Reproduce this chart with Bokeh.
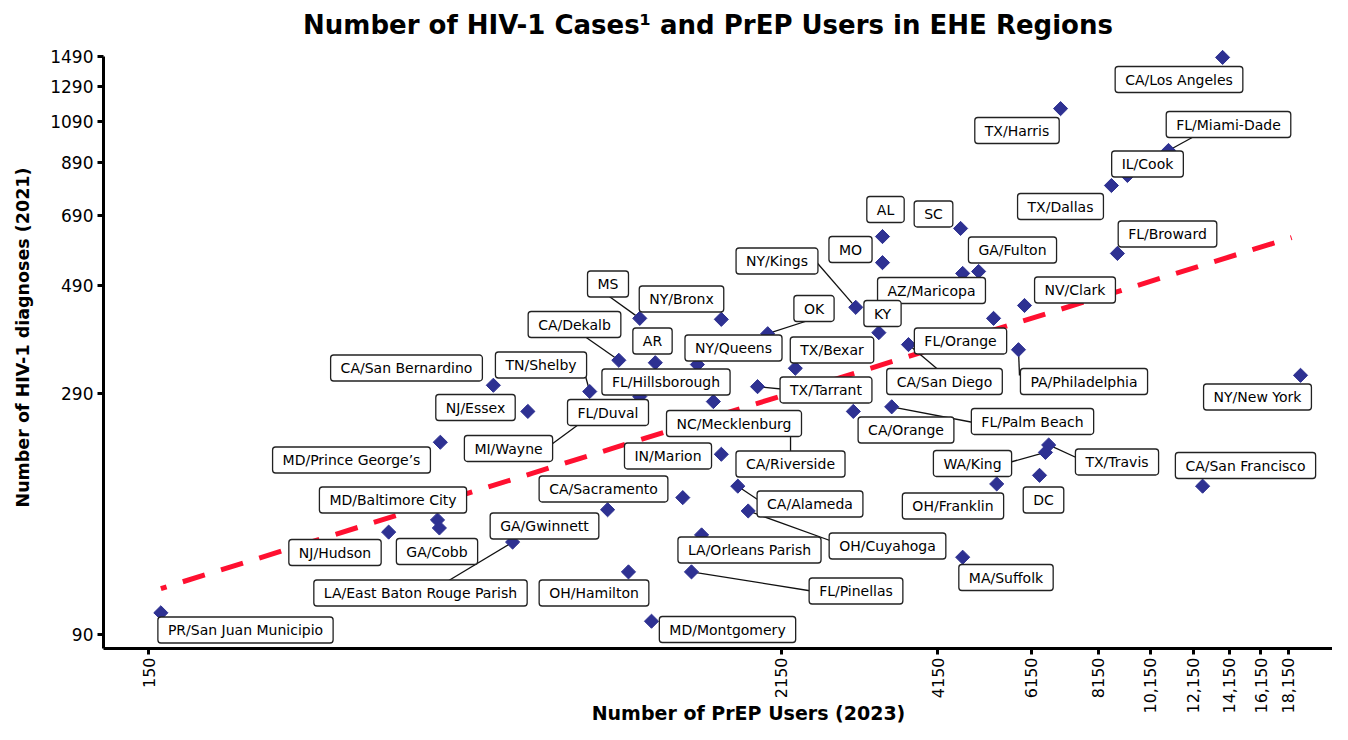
import math
from bokeh.plotting import figure
from bokeh.models import Range1d, FixedTicker, Label, ColumnDataSource
from bokeh.embed import file_html
from bokeh.resources import INLINE

# ---------------- data ----------------
names = [
    "CA/Los Angeles", "TX/Harris", "FL/Miami-Dade", "IL/Cook", "TX/Dallas",
    "FL/Broward", "AL", "SC", "MO", "GA/Fulton",
    "AZ/Maricopa", "NY/Kings", "KY", "OK", "NV/Clark",
    "FL/Orange", "CA/San Diego", "PA/Philadelphia", "NY/New York", "CA/San Francisco",
    "TX/Travis", "WA/King", "DC", "OH/Franklin", "FL/Palm Beach",
    "CA/Orange", "MA/Suffolk", "TX/Bexar", "TX/Tarrant", "NY/Queens",
    "NY/Bronx", "MS", "CA/Dekalb", "AR", "TN/Shelby",
    "CA/San Bernardino", "NJ/Essex", "FL/Hillsborough", "FL/Duval", "MI/Wayne",
    "NC/Mecklenburg", "CA/Riverside", "IN/Marion", "CA/Alameda", "OH/Cuyahoga",
    "CA/Sacramento", "MD/Prince George\u2019s", "MD/Baltimore City", "GA/Cobb", "NJ/Hudson",
    "LA/East Baton Rouge Parish", "GA/Gwinnett", "LA/Orleans Parish", "OH/Hamilton", "FL/Pinellas",
    "MD/Montgomery", "PR/San Juan Municipio",
]
prep_users_2023 = [
    13760, 6960, 10960, 9220, 8620,
    8840, 3290, 4570, 3290, 4930,
    4610, 2940, 3240, 2030, 5980,
    5250, 3670, 5830, 19100, 12650,
    6620, 6530, 6370, 5320, 3420,
    2910, 4610, 2280, 1945, 1510,
    1670, 1185, 1085, 1265, 960,
    640, 740, 1615, 1185, 1005,
    2235, 1420, 1670, 1790, 1870,
    1035, 512, 506, 510, 412,
    694, 797, 1537, 1130, 1473,
    1245, 158,
]
hiv_diagnoses_2021 = [
    1485, 1158, 945, 837, 797,
    573, 622, 647, 548, 525,
    520, 441, 390, 388, 445,
    418, 368, 359, 317, 185,
    226, 218, 195, 187, 272,
    266, 131, 328, 300, 334,
    416, 418, 341, 337, 293,
    302, 266, 279, 286, 270,
    207, 175, 216, 185, 164,
    165, 229, 157, 151, 148,
    141, 153, 146, 122, 122,
    96, 100,
]
trend_x = [158, 18400]
trend_y = [112.5, 619]

x_ticks = [150, 2150, 4150, 6150, 8150, 10150, 12150, 14150, 16150, 18150]
x_tick_labels = ["150", "2150", "4150", "6150", "8150", "10,150", "12,150",
                 "14,150", "16,150", "18,150"]
y_ticks = [90, 290, 490, 690, 890, 1090, 1290, 1490]
y_tick_labels = ["90", "290", "490", "690", "890", "1090", "1290", "1490"]

title_text = "Number of HIV-1 Cases\u00b9 and PrEP Users in EHE Regions"
x_title = "Number of PrEP Users (2023)"
y_title = "Number of HIV-1 diagnoses (2021)"

# ---------------- layout (canvas pixels) ----------------
FIG_W, FIG_H = 1332, 724
AXIS_X_PX, AXIS_Y_PX = 103, 648          # where the y-axis / x-axis lines sit
PX_DEC_X, PX_DEC_Y = 547.3, 474.0         # pixels per decade
X_REF_PX, Y_REF_PX = 148, 634             # px of first x tick / first y tick


def X(px):
    return 10 ** (math.log10(x_ticks[0]) + (px - X_REF_PX) / PX_DEC_X)


def Y(py):
    return 10 ** (math.log10(y_ticks[0]) + (Y_REF_PX - py) / PX_DEC_Y)


# label box centres (px), in the order of `names`
label_px = [
    (1178.5, 79), (1016.5, 130), (1228, 124), (1147, 163.5), (1060, 206),
    (1167, 233.5), (885, 209), (933, 213.5), (850, 249), (1012, 249.5),
    (931, 290), (776.5, 260.5), (882, 313), (813.5, 308), (1074.5, 289.5),
    (960, 340.5), (944, 381), (1083.5, 381), (1257, 396.5), (1245, 465),
    (1116.5, 461.5), (972, 463), (1043, 499.5), (952.5, 505.5), (1032, 421),
    (905.5, 429.5), (1005.5, 577), (831.5, 349.5), (825.5, 389.5), (733, 347.5),
    (681, 298.5), (607.5, 283.5), (574, 324), (652, 340.5), (540.5, 364.5),
    (406, 367.5), (475, 407), (665.5, 381.5), (607.5, 412), (508, 448),
    (733.5, 423), (790, 463.5), (667.5, 455.5), (809.5, 503.5), (887, 545.5),
    (603, 488.5), (351, 459.5), (392.5, 499.5), (436.5, 551), (334.5, 552),
    (420, 592.5), (544, 525.5), (749, 549.5), (593.5, 592.5), (855.5, 590.5),
    (727, 629), (245, 629.5),
]
# leader line label-side ends (px)
leader_end_px = {
    "FL/Miami-Dade": (1199, 133), "NY/Kings": (812, 257), "OK": (814, 318),
    "MS": (606, 294), "CA/Dekalb": (580, 333), "TN/Shelby": (584, 372),
    "TX/Tarrant": (786, 389), "MI/Wayne": (540, 452), "NC/Mecklenburg": (790, 430),
    "CA/San Diego": (941, 372), "PA/Philadelphia": (1019, 375),
    "FL/Palm Beach": (973, 422), "WA/King": (1005, 463), "TX/Travis": (1080, 459),
    "CA/Alameda": (763, 503), "OH/Cuyahoga": (835, 542), "FL/Pinellas": (814, 591),
    "LA/East Baton Rouge Parish": (440, 585),
}

FONT = "DejaVu Sans"
NAVY = "#2e3192"
RED = "#ff1030"

# the plotting frame fills the whole canvas; axes are pinned with fixed_location
p = figure(width=FIG_W, height=FIG_H, x_axis_type="log", y_axis_type="log",
           x_range=Range1d(X(0), X(FIG_W)),
           y_range=Range1d(Y(FIG_H), Y(0)),
           output_backend="svg", toolbar_location=None, title=None,
           min_border=0, min_border_left=0, min_border_right=0,
           min_border_top=0, min_border_bottom=0)
p.outline_line_color = None
p.xgrid.visible = False
p.ygrid.visible = False
p.background_fill_color = "white"
p.border_fill_color = "white"

for ax in (p.xaxis[0], p.yaxis[0]):
    ax.axis_line_width = 3
    ax.axis_line_color = "black"
    ax.major_tick_line_width = 3
    ax.major_tick_line_color = "black"
    ax.major_tick_out = 6
    ax.major_tick_in = 0
    ax.minor_tick_line_color = None
    ax.major_label_text_font = FONT
    ax.major_label_text_color = "black"

p.xaxis.ticker = FixedTicker(ticks=x_ticks)
p.xaxis.major_label_overrides = dict(zip(x_ticks, x_tick_labels))
p.xaxis.major_label_orientation = math.pi / 2
p.xaxis.major_label_text_font_size = "16px"
p.xaxis.major_label_standoff = 3
p.xaxis.fixed_location = Y(AXIS_Y_PX)
p.xaxis.bounds = (X(AXIS_X_PX), X(FIG_W))

p.yaxis.ticker = FixedTicker(ticks=y_ticks)
p.yaxis.major_label_overrides = dict(zip(y_ticks, y_tick_labels))
p.yaxis.major_label_text_font_size = "17px"
p.yaxis.major_label_standoff = 4
p.yaxis.fixed_location = X(AXIS_X_PX)
p.yaxis.bounds = (Y(AXIS_Y_PX), y_ticks[-1])

# trend line
p.line(trend_x, trend_y, line_color=RED, line_width=5,
       line_dash="23 17", line_dash_offset=17)

# leader lines
lx0, ly0, lx1, ly1 = [], [], [], []
for i, n in enumerate(names):
    if n in leader_end_px:
        ex, ey = leader_end_px[n]
        lx0.append(prep_users_2023[i]); ly0.append(hiv_diagnoses_2021[i])
        lx1.append(X(ex)); ly1.append(Y(ey))
p.segment(x0=lx0, y0=ly0, x1=lx1, y1=ly1, line_color="#111111", line_width=1.3)

# points
src = ColumnDataSource(dict(x=prep_users_2023, y=hiv_diagnoses_2021, name=names))
p.scatter("x", "y", source=src, marker="square", size=10, angle=math.pi / 4,
          fill_color=NAVY, line_color=NAVY)

# labels
for n, (cx, cy) in zip(names, label_px):
    p.add_layout(Label(x=X(cx), y=Y(cy), text=n, text_align="center",
                       text_baseline="middle", text_font=FONT,
                       text_font_size="14px", text_color="black",
                       background_fill_color="white",
                       border_line_color="#222222", border_line_width=1.3,
                       padding=dict(left=10, right=10, top=5, bottom=5),
                       border_radius=3))

# chart title and axis titles
p.add_layout(Label(x=X(707.5), y=Y(24), text=title_text, text_align="center",
                   text_baseline="middle", text_font=FONT, text_font_size="26px",
                   text_font_style="bold", text_color="black"))
p.add_layout(Label(x=X(748), y=Y(712), text=x_title, text_align="center",
                   text_baseline="middle", text_font=FONT, text_font_size="19px",
                   text_font_style="bold", text_color="black"))
p.add_layout(Label(x=X(22), y=Y(337), text=y_title, text_align="center",
                   text_baseline="middle", angle=math.pi / 2, text_font=FONT,
                   text_font_size="17.5px", text_font_style="bold",
                   text_color="black"))

open("out.html", "w").write(file_html(p, INLINE))
